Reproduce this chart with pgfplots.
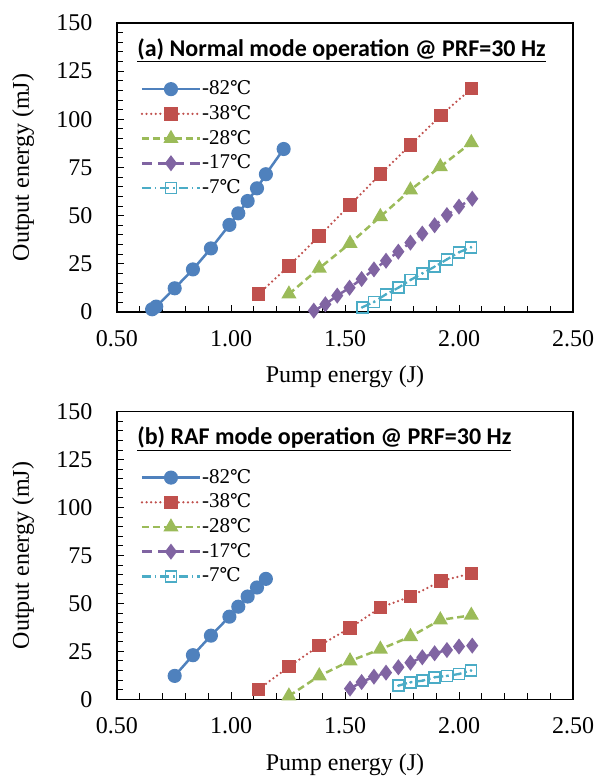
\documentclass[border=0pt]{standalone}
\usepackage{fontspec}
\setmainfont{Liberation Serif}
\newfontfamily\tnr{Liberation Serif}
\newfontfamily\titlefont{Carlito}
\newfontfamily\degfont{DejaVu Serif}[Scale=0.9]
\usepackage{pgfplots}
\pgfplotsset{compat=1.18}
\definecolor{cB}{HTML}{4F81BD}
\definecolor{cR}{HTML}{C0504D}
\definecolor{cG}{HTML}{9BBB59}
\definecolor{cP}{HTML}{8064A2}
\definecolor{cC}{HTML}{4BACC6}
\newcommand{\dC}{{\degfont ℃}}
\pgfplotsset{
 myaxis/.style={
  scale only axis, width=456pt,
  xmin=0.5, xmax=2.5, ymin=0, ymax=150,
  xtick={0.5,1,1.5,2,2.5}, ytick={0,25,...,150},
  minor x tick num=4, minor y tick num=4,
  tick align=inside, xtick pos=bottom, ytick pos=left,
  major tick length=7pt, minor tick length=6pt,
  axis line style={line width=1.3pt},
  tick style={black, line width=1pt},
  clip=false,
  /pgf/number format/assume math mode=true,
  tick label style={font=\tnr\fontsize{24}{24}\selectfont},
  xticklabel style={/pgf/number format/fixed, /pgf/number format/fixed zerofill, /pgf/number format/precision=2, yshift=-15pt},
  yticklabel style={xshift=-21pt},
  xlabel={Pump energy (J)}, ylabel={Output energy (mJ)},
  label style={font=\tnr\fontsize{24}{24}\selectfont},
  x label style={at={(axis description cs:0.5,0)}, anchor=base, yshift=-71pt},
  y label style={at={(axis description cs:-0.206,0.5)}, anchor=center},
  legend style={at={(rel axis cs:0.045,0.815)}, anchor=north west, draw=none, fill=none,
    font=\tnr\fontsize{21}{21}\selectfont, row sep=3.7pt,
    nodes={inner sep=1pt, text height=15pt, text depth=4pt}},
  legend cell align=left,
  legend image code/.code={\draw[mark repeat=2,mark phase=2,##1] plot coordinates {(0pt,0pt) (29pt,0pt) (58pt,0pt)};},
 },
 s82/.style={cB, line width=2.5pt, mark=*, mark size=5.8pt, mark options={solid}},
 s38/.style={cR, line width=2.5pt, line cap=round, dash pattern=on 0pt off 4.6pt, mark=square*, mark size=5.5pt, mark options={solid}},
 s28/.style={cG, line width=2.5pt, dash pattern=on 7pt off 4pt, mark=triangle*, mark size=6.3pt, mark options={solid}},
 s17/.style={cP, line width=2.5pt, dash pattern=on 10pt off 6pt, mark=diamond*, mark size=6pt, mark options={solid}},
 s7/.style={cC, line width=2.3pt, dash pattern=on 9pt off 4pt on 1.5pt off 4pt, mark=square, mark size=5.5pt, mark options={solid, fill=white, line width=1.8pt}},
 s7d/.style={cC, draw=none, mark=*, mark size=1.1pt, forget plot},
}
\begin{document}
\begin{tikzpicture}
\path[use as bounding box] (0,0) rectangle (595pt,776pt);
% ---------- (a) ----------
\begin{axis}[myaxis, at={(117pt,464pt)}, anchor=south west, height=289pt]
\node[anchor=west, inner sep=0pt] at (rel axis cs:0.044,0.906) {\titlefont\bfseries\fontsize{24}{24}\selectfont\underline{(a) Normal mode operation @ PRF=30 Hz}};
\addplot[s82] coordinates {(0.654,1.4) (0.672,2.8) (0.753,12.3) (0.833,22.1) (0.912,33.0) (0.993,45.2) (1.032,51.2) (1.073,57.6) (1.114,64.2) (1.153,71.5) (1.231,84.6)};
\addlegendentry{-82\dC}
\addplot[s38] coordinates {(1.121,9.3) (1.254,23.9) (1.387,39.4) (1.522,55.5) (1.655,71.5) (1.787,86.7) (1.921,102.1) (2.054,115.9)};
\addlegendentry{-38\dC}
\addplot[s28] coordinates {(1.254,9.3) (1.387,22.7) (1.522,35.6) (1.655,49.5) (1.787,63.3) (1.918,75.4) (2.054,87.9)};
\addlegendentry{-28\dC}
\addplot[s17] coordinates {(1.363,0.7) (1.414,4.0) (1.466,8.5) (1.520,12.6) (1.573,17.1) (1.627,22.1) (1.680,26.6) (1.734,31.3) (1.787,36.0) (1.839,40.7) (1.893,45.0) (1.947,50.3) (2.000,54.7) (2.058,58.8)};
\addlegendentry{-17\dC}
\addplot[s7] coordinates {(1.575,2.4) (1.627,5.2) (1.680,9.2) (1.734,12.6) (1.787,16.6) (1.840,20.1) (1.893,23.5) (1.947,27.3) (2.000,31.0) (2.053,33.6)};
\addlegendentry{-7\dC}
\addplot[s7d] coordinates {(1.575,2.4) (1.627,5.2) (1.680,9.2) (1.734,12.6) (1.787,16.6) (1.840,20.1) (1.893,23.5) (1.947,27.3) (2.000,31.0) (2.053,33.6)};
\end{axis}
% ---------- (b) ----------
\begin{axis}[myaxis, at={(117pt,76.7pt)}, anchor=south west, height=287.6pt]
\node[anchor=west, inner sep=0pt] at (rel axis cs:0.044,0.906) {\titlefont\bfseries\fontsize{24}{24}\selectfont\underline{(b) RAF mode operation @ PRF=30 Hz}};
\addplot[s82] coordinates {(0.753,12.2) (0.833,23.0) (0.912,33.2) (0.993,43.1) (1.032,48.3) (1.073,53.6) (1.114,58.3) (1.153,62.8)};
\addlegendentry{-82\dC}
\addplot[s38] coordinates {(1.121,5.2) (1.254,17.0) (1.387,28.0) (1.522,37.2) (1.655,47.8) (1.787,53.6) (1.921,61.7) (2.054,65.6)};
\addlegendentry{-38\dC}
\addplot[s28] coordinates {(1.254,1.7) (1.387,12.2) (1.522,20.0) (1.655,26.1) (1.787,32.7) (1.918,41.4) (2.054,43.8)};
\addlegendentry{-28\dC}
\addplot[s17] coordinates {(1.522,5.6) (1.573,9.0) (1.627,11.8) (1.680,13.9) (1.734,16.7) (1.787,19.1) (1.839,21.9) (1.893,24.0) (1.947,25.7) (2.000,27.5) (2.058,28.0)};
\addlegendentry{-17\dC}
\addplot[s7] coordinates {(1.734,7.1) (1.787,8.9) (1.840,9.7) (1.893,11.5) (1.947,12.2) (2.000,13.2) (2.053,15.0)};
\addlegendentry{-7\dC}
\addplot[s7d] coordinates {(1.734,7.1) (1.787,8.9) (1.840,9.7) (1.893,11.5) (1.947,12.2) (2.000,13.2) (2.053,15.0)};
\end{axis}
\end{tikzpicture}
\end{document}
